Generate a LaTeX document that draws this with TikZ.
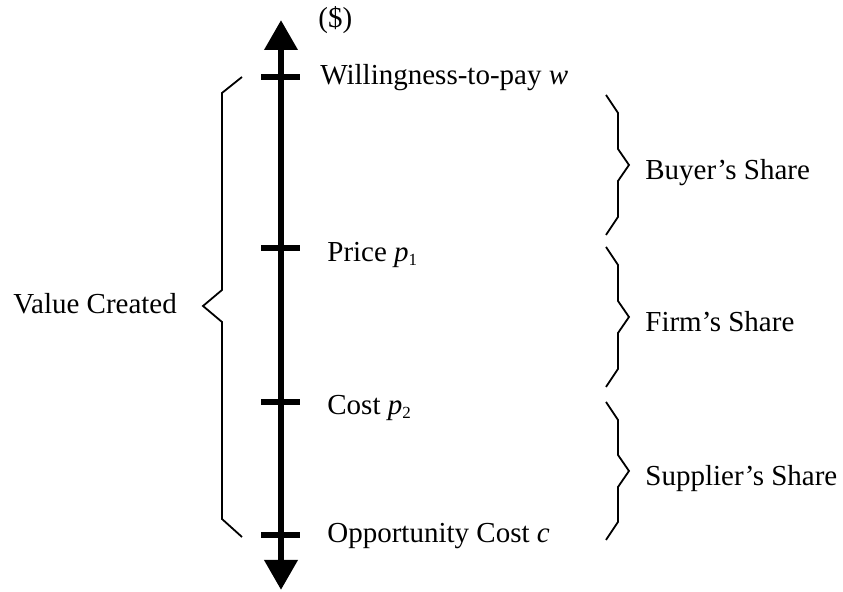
\documentclass[tikz,border=0pt]{standalone}
\usepackage{fontspec}
\setmainfont{Liberation Serif}
\usetikzlibrary{arrows.meta}
\newcommand\lowsub[1]{\raisebox{-0.3ex}{\fontsize{8.5}{9}\selectfont #1}}

\begin{document}
\begin{tikzpicture}[x=0.5pt, y=-0.5pt,
    valueaxis/.style={line width=3.4pt, {Triangle[length=15pt,width=16pt]}-{Triangle[length=15pt,width=16pt]}},
    axistick/.style={line width=3pt},
    sharebrace/.style={line width=0.9pt, line join=miter},
    tagtext/.style={anchor=base west, inner sep=0pt, font=\fontsize{14.5}{17}\selectfont}]
    \useasboundingbox (0,0) rectangle (843,592);
    % Axis end points and ticks
    \coordinate (top) at (281,20);
    \coordinate (bottom) at (281,590);
    \coordinate (wtp) at (281,77);
    \coordinate (price) at (281,248);
    \coordinate (cost) at (281,402);
    \coordinate (opp) at (281,535);
    \draw[valueaxis] (bottom) -- (top);
    \foreach \pt in {wtp, price, cost, opp}
        \draw[axistick] ([xshift=-10pt]\pt) -- ([xshift=9.5pt]\pt);
    % Tick labels
    \node[tagtext] (unit) at (318,28) {(\$)};
    \node[tagtext] (wtplabel) at (320,85) {Willingness-to-pay \textit{w}};
    \node[tagtext] (pricelabel) at (327,262) {Price \textit{p}\lowsub{1}};
    \node[tagtext] (costlabel) at (327,415) {Cost \textit{p}\lowsub{2}};
    \node[tagtext] (opplabel) at (327,543) {Opportunity Cost \textit{c}};
    % Value created brace
    \draw[sharebrace] (242,77) -- (222,93) -- (222,290) -- (203,306) -- (222,322) -- (222,519) -- (242,537);
    \node[tagtext] (valuelabel) at (13,314) {Value Created};
    % Shares
    \foreach \ya/\yb/\nm/\txt in {95/235/buyer/Buyer's Share, 247/387/firm/Firm's Share, 402/540/supplier/Supplier's Share} {
        \pgfmathsetmacro\ym{(\ya+\yb)/2}
        \draw[sharebrace] (606,\ya) -- (618,\ya+18) -- (618,\ym-16) -- (629,\ym) -- (618,\ym+16) -- (618,\yb-18) -- (606,\yb);
        \node[tagtext] (\nm) at (645,\ym+15) {\txt};
    }
\end{tikzpicture}
\end{document}
